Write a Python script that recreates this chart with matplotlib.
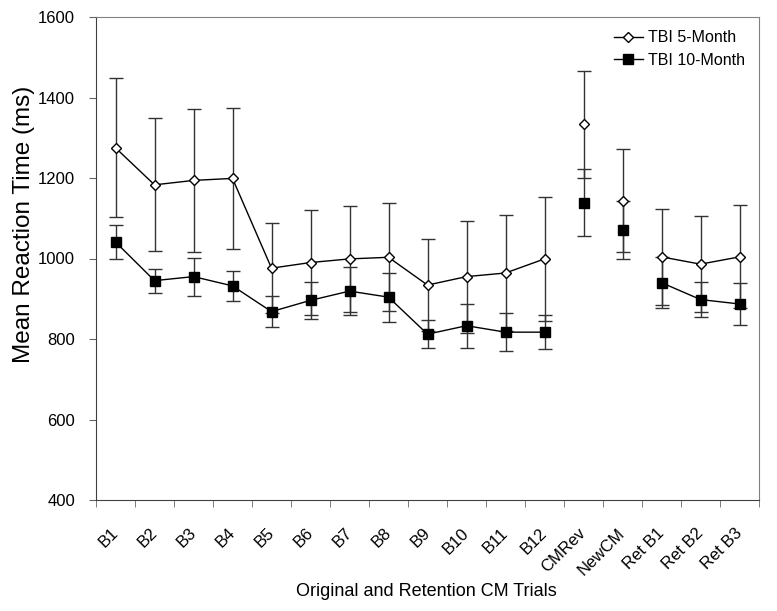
import matplotlib
matplotlib.use("Agg")
import matplotlib.pyplot as plt
import numpy as np

plt.rcParams['font.family'] = ['Liberation Sans', 'DejaVu Sans']

trials = ["B1", "B2", "B3", "B4", "B5", "B6", "B7", "B8", "B9", "B10", "B11", "B12",
          "CMRev", "NewCM", "Ret B1", "Ret B2", "Ret B3"]

mean_5mo = [1275, 1183, 1194, 1199, 976, 990, 999, 1003, 934, 955, 964, 999,
            1334, 1144, 1004, 986, 1004]
se_5mo = [173, 165, 178, 176, 112, 130, 132, 134, 115, 139, 145, 155,
          133, 129, 120, 120, 128]

mean_10mo = [1041, 945, 955, 932, 868, 896, 919, 904, 812, 833, 817, 817,
             1139, 1072, 940, 898, 887]
se_10mo = [42, 30, 47, 38, 38, 46, 59, 61, 35, 55, 48, 43,
           83, 72, 64, 44, 52]

# which trials are joined by a line
segments = [list(range(0, 12)), [12], [13], [14, 15, 16]]

fig = plt.figure(figsize=(7.77, 6.11), dpi=100)
ax = fig.add_axes([96/777, 1 - 500/611, 663/777, 483/611])

x = np.arange(len(trials))


def plotSeries(means, errs, marker, face, size, label):
	means = np.array(means, dtype=float)
	errs = np.array(errs, dtype=float)
	ax.errorbar(x, means, yerr=errs, fmt="none", ecolor="0.2", elinewidth=1,
	            capsize=5, capthick=1, zorder=2)
	for k, seg in enumerate(segments):
		ax.plot(x[seg], means[seg], color="black", lw=1, marker=marker,
		        markerfacecolor=face, markeredgecolor="black", markersize=size,
		        markeredgewidth=1, zorder=3, label=label if k == 0 else None)


plotSeries(mean_5mo, se_5mo, "D", "white", 5, "TBI 5-Month")
plotSeries(mean_10mo, se_10mo, "s", "black", 6.5, "TBI 10-Month")

ax.set_xlim(-0.5, len(trials) - 0.5)
ax.set_ylim(400, 1600)
ax.set_yticks(np.arange(400, 1601, 200))

ax.set_xticks(x)
ax.set_xticklabels(trials, rotation=45, ha="right", va="center", rotation_mode="anchor")
ax.set_xticks(np.arange(-0.5, len(trials), 1), minor=True)
ax.tick_params(axis="x", which="major", length=0, pad=22, labelsize=12)
ax.tick_params(axis="x", which="minor", length=5, direction="out", color="0.4")
ax.tick_params(axis="y", length=5, direction="out", color="0.4", labelsize=12, pad=10)

for side in ["left", "bottom"]:
	ax.spines[side].set_color("0.25")
for side in ["top", "right"]:
	ax.spines[side].set_color("0.5")

ax.set_xlabel("Original and Retention CM Trials", fontsize=13)
ax.xaxis.set_label_coords(0.499, -0.172)
ax.set_ylabel("Mean Reaction Time (ms)", fontsize=17.5)
ax.yaxis.set_label_coords(-0.092, 0.57)

ax.legend(loc="upper right", frameon=False, fontsize=11.5, handlelength=1.8,
          handletextpad=0.3, labelspacing=0.45, bbox_to_anchor=(1.0, 1.002))

fig.savefig("out.png", dpi=100)
